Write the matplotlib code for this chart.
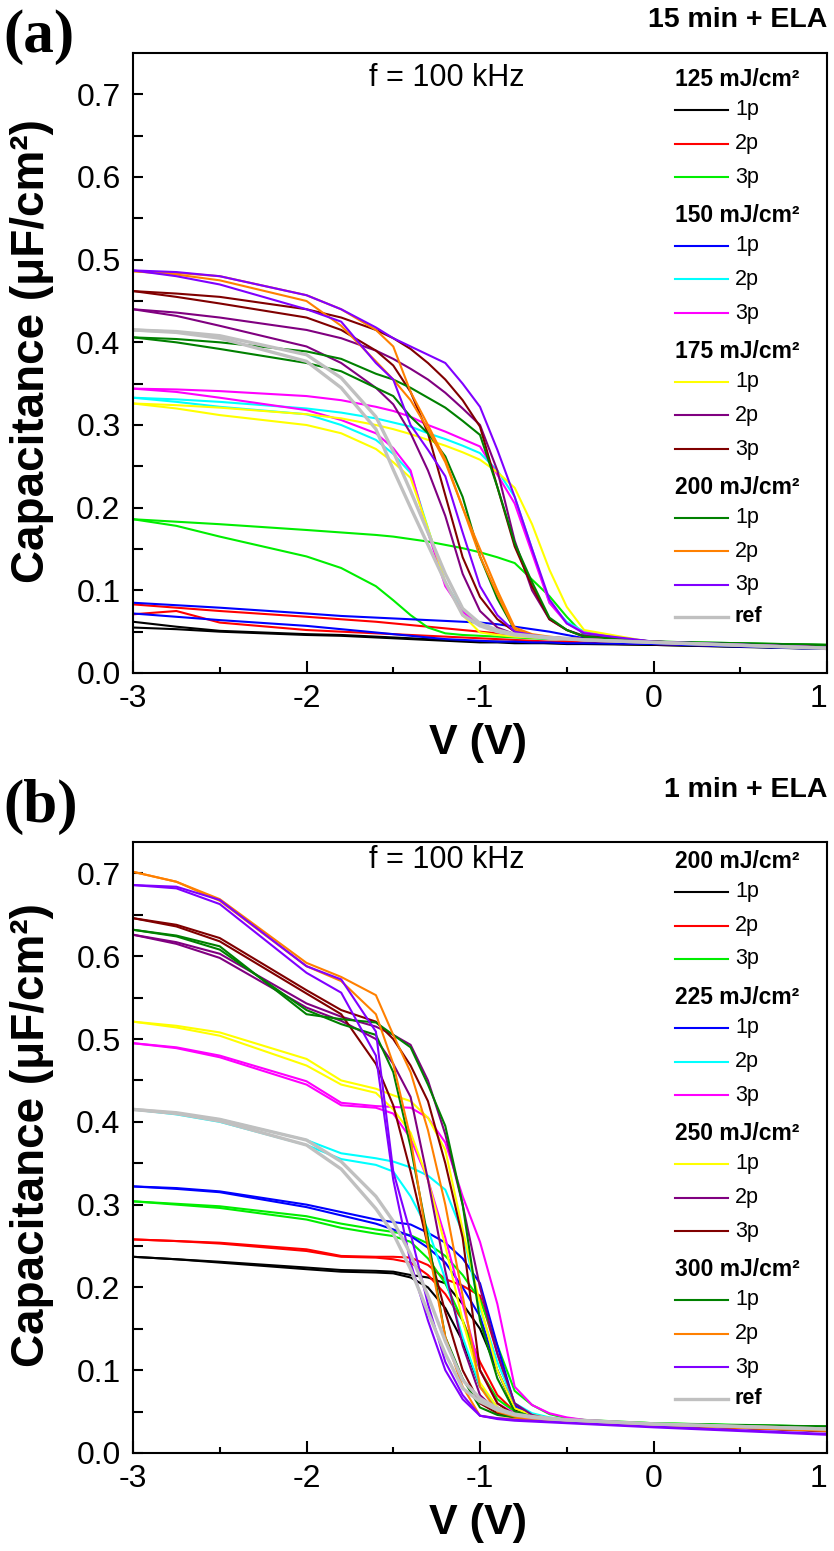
import matplotlib
matplotlib.use('Agg')
import matplotlib.pyplot as plt
from matplotlib.lines import Line2D

plt.rcParams['axes.unicode_minus'] = False

# bias sweep (V), shared by every curve; each sample = [forward sweep, reverse sweep]
v = [-3, -2.75, -2.5, -2, -1.8, -1.6, -1.5, -1.4, -1.3, -1.2, -1.1, -1.0,
     -0.9, -0.8, -0.7, -0.6, -0.5, -0.4, 0, 1]

# ---- (a) 15 min + ELA ----
a_125_1p = [[0.062, 0.056, 0.051, 0.047, 0.046, 0.044, 0.043, 0.042, 0.041, 0.040, 0.039, 0.038, 0.038, 0.037, 0.037, 0.036, 0.036, 0.036, 0.034, 0.030],
            [0.055, 0.053, 0.050, 0.046, 0.045, 0.043, 0.042, 0.041, 0.040, 0.039, 0.038, 0.037, 0.037, 0.036, 0.036, 0.036, 0.035, 0.035, 0.034, 0.029]]
a_125_2p = [[0.083, 0.079, 0.075, 0.068, 0.065, 0.062, 0.060, 0.058, 0.056, 0.054, 0.052, 0.050, 0.048, 0.046, 0.044, 0.042, 0.040, 0.039, 0.036, 0.031],
            [0.071, 0.075, 0.061, 0.052, 0.050, 0.048, 0.047, 0.046, 0.045, 0.044, 0.043, 0.042, 0.041, 0.040, 0.039, 0.038, 0.038, 0.037, 0.035, 0.030]]
a_125_3p = [[0.186, 0.183, 0.180, 0.173, 0.170, 0.167, 0.165, 0.162, 0.159, 0.155, 0.151, 0.146, 0.140, 0.133, 0.113, 0.093, 0.068, 0.046, 0.038, 0.034],
            [0.186, 0.178, 0.165, 0.141, 0.127, 0.105, 0.088, 0.070, 0.055, 0.048, 0.046, 0.045, 0.044, 0.043, 0.042, 0.041, 0.041, 0.040, 0.037, 0.033]]
a_150_1p = [[0.085, 0.082, 0.079, 0.072, 0.069, 0.067, 0.066, 0.065, 0.064, 0.063, 0.062, 0.061, 0.059, 0.056, 0.053, 0.050, 0.046, 0.042, 0.036, 0.030],
            [0.072, 0.068, 0.064, 0.057, 0.053, 0.049, 0.047, 0.045, 0.043, 0.041, 0.040, 0.039, 0.038, 0.038, 0.037, 0.037, 0.036, 0.036, 0.035, 0.029]]
a_150_2p = [[0.333, 0.331, 0.328, 0.320, 0.315, 0.308, 0.303, 0.298, 0.290, 0.283, 0.275, 0.266, 0.245, 0.213, 0.150, 0.085, 0.062, 0.050, 0.037, 0.030],
            [0.333, 0.328, 0.322, 0.313, 0.300, 0.282, 0.265, 0.242, 0.175, 0.109, 0.075, 0.058, 0.050, 0.046, 0.044, 0.042, 0.041, 0.040, 0.037, 0.030]]
a_150_3p = [[0.344, 0.343, 0.341, 0.335, 0.330, 0.322, 0.317, 0.310, 0.300, 0.292, 0.283, 0.274, 0.240, 0.205, 0.145, 0.085, 0.060, 0.049, 0.037, 0.030],
            [0.344, 0.340, 0.333, 0.318, 0.306, 0.290, 0.272, 0.245, 0.170, 0.105, 0.074, 0.058, 0.050, 0.047, 0.045, 0.043, 0.042, 0.041, 0.037, 0.030]]
a_175_1p = [[0.326, 0.324, 0.321, 0.313, 0.308, 0.300, 0.295, 0.289, 0.282, 0.275, 0.267, 0.258, 0.243, 0.224, 0.180, 0.125, 0.080, 0.052, 0.037, 0.030],
            [0.326, 0.320, 0.312, 0.300, 0.290, 0.271, 0.255, 0.236, 0.175, 0.110, 0.070, 0.049, 0.046, 0.044, 0.043, 0.042, 0.041, 0.040, 0.037, 0.030]]
a_175_2p = [[0.440, 0.436, 0.430, 0.415, 0.405, 0.390, 0.380, 0.368, 0.355, 0.339, 0.320, 0.300, 0.245, 0.160, 0.100, 0.065, 0.052, 0.045, 0.038, 0.030],
            [0.440, 0.432, 0.420, 0.395, 0.375, 0.345, 0.325, 0.290, 0.245, 0.190, 0.120, 0.075, 0.055, 0.047, 0.044, 0.042, 0.041, 0.040, 0.037, 0.030]]
a_175_3p = [[0.462, 0.459, 0.455, 0.440, 0.430, 0.415, 0.405, 0.392, 0.375, 0.355, 0.330, 0.298, 0.225, 0.153, 0.105, 0.065, 0.052, 0.044, 0.038, 0.030],
            [0.462, 0.455, 0.447, 0.430, 0.415, 0.390, 0.372, 0.340, 0.290, 0.215, 0.140, 0.092, 0.065, 0.050, 0.046, 0.043, 0.042, 0.041, 0.037, 0.030]]
a_200_1p = [[0.406, 0.404, 0.400, 0.389, 0.380, 0.362, 0.355, 0.345, 0.333, 0.321, 0.305, 0.288, 0.225, 0.157, 0.110, 0.067, 0.052, 0.044, 0.038, 0.034],
            [0.406, 0.400, 0.392, 0.375, 0.365, 0.345, 0.335, 0.310, 0.290, 0.262, 0.213, 0.141, 0.090, 0.052, 0.046, 0.043, 0.042, 0.041, 0.037, 0.034]]
a_200_2p = [[0.486, 0.484, 0.480, 0.457, 0.440, 0.415, 0.395, 0.340, 0.300, 0.258, 0.200, 0.141, 0.095, 0.052, 0.046, 0.043, 0.042, 0.041, 0.037, 0.031],
            [0.486, 0.482, 0.475, 0.450, 0.420, 0.377, 0.355, 0.330, 0.295, 0.255, 0.200, 0.150, 0.100, 0.055, 0.047, 0.044, 0.042, 0.041, 0.037, 0.031]]
a_200_3p = [[0.487, 0.485, 0.480, 0.457, 0.440, 0.418, 0.405, 0.395, 0.385, 0.375, 0.350, 0.322, 0.270, 0.213, 0.150, 0.089, 0.060, 0.048, 0.038, 0.031],
            [0.487, 0.480, 0.470, 0.440, 0.425, 0.375, 0.355, 0.300, 0.270, 0.238, 0.170, 0.105, 0.070, 0.050, 0.046, 0.043, 0.042, 0.041, 0.037, 0.031]]
a_ref = [[0.415, 0.412, 0.405, 0.377, 0.345, 0.295, 0.246, 0.200, 0.155, 0.110, 0.070, 0.057, 0.050, 0.046, 0.044, 0.042, 0.041, 0.040, 0.037, 0.030],
         [0.415, 0.413, 0.408, 0.385, 0.357, 0.310, 0.268, 0.220, 0.170, 0.120, 0.078, 0.060, 0.052, 0.047, 0.045, 0.043, 0.042, 0.040, 0.037, 0.030]]

# ---- (b) 1 min + ELA ----
b_200_1p = [[0.237, 0.234, 0.231, 0.224, 0.221, 0.220, 0.219, 0.215, 0.212, 0.205, 0.180, 0.150, 0.100, 0.052, 0.045, 0.041, 0.039, 0.038, 0.035, 0.030],
            [0.237, 0.234, 0.230, 0.222, 0.219, 0.218, 0.217, 0.212, 0.200, 0.175, 0.135, 0.080, 0.055, 0.045, 0.042, 0.040, 0.039, 0.038, 0.035, 0.029]]
b_200_2p = [[0.258, 0.256, 0.254, 0.246, 0.238, 0.237, 0.237, 0.236, 0.227, 0.210, 0.202, 0.190, 0.120, 0.055, 0.046, 0.042, 0.040, 0.039, 0.035, 0.030],
            [0.258, 0.256, 0.253, 0.244, 0.237, 0.236, 0.234, 0.230, 0.215, 0.192, 0.160, 0.110, 0.070, 0.050, 0.044, 0.041, 0.040, 0.039, 0.035, 0.029]]
b_200_3p = [[0.304, 0.301, 0.298, 0.286, 0.277, 0.270, 0.267, 0.263, 0.253, 0.238, 0.215, 0.185, 0.130, 0.075, 0.058, 0.047, 0.042, 0.040, 0.036, 0.032],
            [0.304, 0.300, 0.296, 0.282, 0.272, 0.265, 0.262, 0.255, 0.235, 0.205, 0.160, 0.100, 0.065, 0.050, 0.045, 0.042, 0.040, 0.039, 0.036, 0.031]]
b_225_1p = [[0.322, 0.320, 0.316, 0.300, 0.291, 0.282, 0.279, 0.276, 0.266, 0.254, 0.235, 0.205, 0.130, 0.058, 0.047, 0.042, 0.040, 0.039, 0.035, 0.030],
            [0.322, 0.319, 0.315, 0.297, 0.287, 0.277, 0.270, 0.262, 0.248, 0.230, 0.200, 0.165, 0.100, 0.055, 0.046, 0.042, 0.040, 0.039, 0.035, 0.029]]
b_225_2p = [[0.415, 0.410, 0.403, 0.378, 0.362, 0.356, 0.352, 0.345, 0.335, 0.318, 0.266, 0.175, 0.110, 0.060, 0.048, 0.043, 0.040, 0.039, 0.035, 0.030],
            [0.415, 0.409, 0.400, 0.372, 0.355, 0.348, 0.340, 0.310, 0.270, 0.210, 0.140, 0.080, 0.055, 0.046, 0.043, 0.041, 0.040, 0.039, 0.035, 0.029]]
b_225_3p = [[0.495, 0.490, 0.480, 0.449, 0.423, 0.419, 0.418, 0.417, 0.405, 0.375, 0.310, 0.255, 0.180, 0.080, 0.058, 0.048, 0.043, 0.040, 0.035, 0.030],
            [0.495, 0.489, 0.478, 0.445, 0.420, 0.417, 0.410, 0.380, 0.330, 0.260, 0.180, 0.100, 0.060, 0.048, 0.044, 0.041, 0.040, 0.039, 0.035, 0.029]]
b_250_1p = [[0.521, 0.516, 0.508, 0.476, 0.450, 0.440, 0.432, 0.425, 0.405, 0.366, 0.270, 0.180, 0.100, 0.054, 0.046, 0.042, 0.040, 0.039, 0.035, 0.030],
            [0.521, 0.514, 0.504, 0.468, 0.445, 0.435, 0.415, 0.387, 0.330, 0.250, 0.160, 0.085, 0.055, 0.047, 0.043, 0.041, 0.040, 0.039, 0.035, 0.029]]
b_250_2p = [[0.626, 0.617, 0.603, 0.543, 0.527, 0.515, 0.505, 0.493, 0.450, 0.385, 0.300, 0.200, 0.120, 0.060, 0.046, 0.041, 0.039, 0.038, 0.034, 0.027],
            [0.626, 0.615, 0.598, 0.538, 0.522, 0.500, 0.470, 0.430, 0.330, 0.220, 0.130, 0.070, 0.050, 0.044, 0.041, 0.039, 0.038, 0.037, 0.034, 0.026]]
b_250_3p = [[0.646, 0.638, 0.622, 0.559, 0.535, 0.521, 0.500, 0.468, 0.425, 0.350, 0.260, 0.100, 0.060, 0.046, 0.042, 0.040, 0.039, 0.038, 0.034, 0.027],
            [0.646, 0.636, 0.618, 0.555, 0.530, 0.470, 0.420, 0.340, 0.250, 0.170, 0.100, 0.060, 0.048, 0.043, 0.041, 0.039, 0.038, 0.037, 0.034, 0.027]]
b_300_1p = [[0.632, 0.625, 0.612, 0.530, 0.524, 0.520, 0.505, 0.490, 0.445, 0.395, 0.300, 0.160, 0.090, 0.050, 0.044, 0.041, 0.040, 0.039, 0.035, 0.032],
            [0.632, 0.624, 0.608, 0.535, 0.518, 0.505, 0.460, 0.370, 0.260, 0.140, 0.090, 0.055, 0.046, 0.043, 0.041, 0.040, 0.039, 0.038, 0.035, 0.032]]
b_300_2p = [[0.702, 0.690, 0.669, 0.592, 0.575, 0.553, 0.505, 0.460, 0.390, 0.300, 0.190, 0.080, 0.050, 0.044, 0.041, 0.039, 0.038, 0.037, 0.034, 0.027],
            [0.702, 0.690, 0.667, 0.588, 0.570, 0.530, 0.470, 0.380, 0.250, 0.140, 0.080, 0.045, 0.042, 0.041, 0.040, 0.039, 0.038, 0.037, 0.034, 0.027]]
b_300_3p = [[0.686, 0.684, 0.668, 0.588, 0.572, 0.509, 0.340, 0.265, 0.180, 0.110, 0.070, 0.045, 0.042, 0.040, 0.039, 0.038, 0.037, 0.036, 0.032, 0.023],
            [0.686, 0.682, 0.663, 0.580, 0.556, 0.480, 0.330, 0.230, 0.160, 0.100, 0.065, 0.045, 0.041, 0.039, 0.038, 0.037, 0.036, 0.035, 0.031, 0.022]]
b_ref = [[0.415, 0.410, 0.401, 0.372, 0.343, 0.295, 0.265, 0.222, 0.170, 0.120, 0.078, 0.062, 0.052, 0.046, 0.043, 0.041, 0.040, 0.039, 0.035, 0.029],
         [0.415, 0.411, 0.403, 0.378, 0.352, 0.310, 0.280, 0.240, 0.190, 0.135, 0.088, 0.066, 0.054, 0.047, 0.044, 0.042, 0.040, 0.039, 0.035, 0.029]]

fluence_a = ['125', '150', '175', '200']
fluence_b = ['200', '225', '250', '300']
pulses = ['1p', '2p', '3p']
series_a = [a_125_1p, a_125_2p, a_125_3p, a_150_1p, a_150_2p, a_150_3p,
            a_175_1p, a_175_2p, a_175_3p, a_200_1p, a_200_2p, a_200_3p]
series_b = [b_200_1p, b_200_2p, b_200_3p, b_225_1p, b_225_2p, b_225_3p,
            b_250_1p, b_250_2p, b_250_3p, b_300_1p, b_300_2p, b_300_3p]

colors = ['#000000', '#ff0000', '#00ee00', '#0000ff', '#00ffff', '#ff00ff',
          '#ffff00', '#800080', '#800000', '#008000', '#ff8000', '#8000ff']
ref_color = '#c0c0c0'

arial = ['Liberation Sans', 'DejaVu Sans']
serif = ['Liberation Serif', 'DejaVu Serif']

W, H = 834, 1551
fig = plt.figure(figsize=(W / 100, H / 100), dpi=100)


def px(x, y):
    return x / W, 1 - y / H


def draw_panel(box, series, ref, fluences, ymax, tag, title, ytop, leg_top, f_y):
    left, top, right, bottom = box
    ax = fig.add_axes([left / W, 1 - bottom / H, (right - left) / W, (bottom - top) / H])
    for s, c in zip(series, colors):
        ax.plot(v, s[0], color=c, lw=1.5)
        ax.plot(v, s[1], color=c, lw=1.5)
    ax.plot(v, ref[0], color=ref_color, lw=2.4)
    ax.plot(v, ref[1], color=ref_color, lw=2.4)

    ax.set_xlim(-3, 1)
    ax.set_ylim(0, ymax)
    ax.set_xticks([-3, -2, -1, 0, 1])
    ax.set_xticks([-2.5, -1.5, -0.5, 0.5], minor=True)
    ax.set_yticks([0, 0.1, 0.2, 0.3, 0.4, 0.5, 0.6, 0.7])
    ax.set_yticks([0.05, 0.15, 0.25, 0.35, 0.45, 0.55, 0.65], minor=True)
    ax.set_yticklabels(['0.0', '0.1', '0.2', '0.3', '0.4', '0.5', '0.6', '0.7'])
    ax.tick_params(axis='x', which='major', direction='in', length=9, width=1.5, pad=8)
    ax.tick_params(axis='x', which='minor', direction='in', length=4.5, width=1.5)
    ax.tick_params(axis='y', which='both', direction='in', length=7, width=1.5, pad=9)
    ax.tick_params(top=False, right=False, which='both')
    for lab in ax.get_xticklabels() + ax.get_yticklabels():
        lab.set_family(arial)
        lab.set_fontsize(23)
    ax.get_xticklabels()[-1].set_ha('right')
    for sp in ax.spines.values():
        sp.set_linewidth(1.5)

    # hand-built legend: header rows for fluence, one row per pulse count
    hgt = bottom - top
    wid = right - left
    x0, x1, xt = (675 - left) / wid, (728 - left) / wid, (735 - left) / wid

    def ya(y_px):
        return 1 - (y_px - top) / hgt

    y = leg_top
    k = 0
    for i, f in enumerate(fluences):
        if i > 0:
            y += 38
        ax.text((675 - left) / wid, ya(y), f + ' mJ/cm²', transform=ax.transAxes,
                family=arial, fontweight='bold', fontsize=16.5, va='center', ha='left')
        y += 31
        for j, p in enumerate(pulses):
            if j > 0:
                y += 33.5
            ax.add_line(Line2D([x0, x1], [ya(y), ya(y)], transform=ax.transAxes,
                               color=colors[k], lw=1.5))
            ax.text(xt, ya(y), p, transform=ax.transAxes, family=arial, fontsize=15.5,
                    va='center', ha='left')
            k += 1
    y += 32
    ax.add_line(Line2D([x0, x1], [ya(y), ya(y)], transform=ax.transAxes, color=ref_color, lw=2.4))
    ax.text(xt, ya(y), 'ref', transform=ax.transAxes, family=arial, fontweight='bold',
            fontsize=15.5, va='center', ha='left')

    ax.text((447 - left) / wid, ya(f_y), 'f = 100 kHz', transform=ax.transAxes,
            family=arial, fontsize=22, va='center', ha='center')

    fig.text(*px(3, ytop + 50), tag, family=serif, fontweight='bold', fontsize=44,
             va='baseline', ha='left')
    fig.text(*px(827, ytop + 18), title, family=arial, fontweight='bold', fontsize=20.5,
             va='center', ha='right')
    fig.text(*px(32, (top + bottom) / 2 - 12), 'Capacitance (μF/cm²)', family=arial,
             fontweight='bold', fontsize=33, rotation=90, va='center', ha='center')
    fig.text(*px(478, bottom + 70), 'V (V)', family=arial,
             fontweight='bold', fontsize=31, va='center', ha='center')
    return ax


draw_panel((133, 53, 827, 673), series_a, a_ref, fluence_a, 0.75, '(a)', '15 min + ELA', 2, 79, 78)
draw_panel((133, 842, 827, 1453), series_b, b_ref, fluence_b, 0.738, '(b)', '1 min + ELA', 772, 861, 860)

fig.savefig('out.png', dpi=100)
